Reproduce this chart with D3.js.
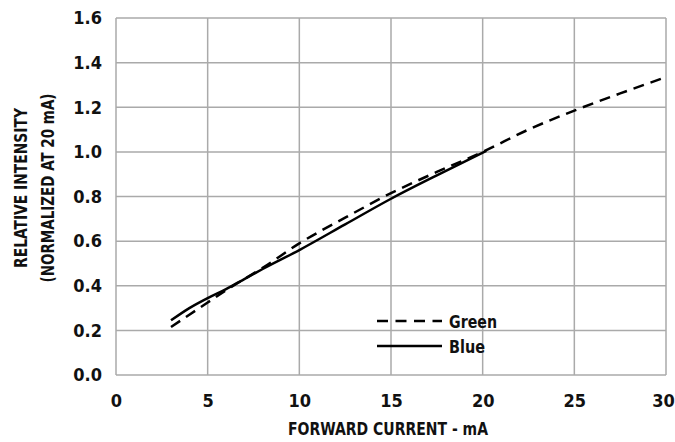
<!DOCTYPE html>
<html>
<head>
<meta charset="utf-8">
<script src="https://cdn.jsdelivr.net/npm/d3@7"></script>
<style>
  body { margin: 0; background: #fff; }
  text { font-family: "DejaVu Sans Condensed", "DejaVu Sans", sans-serif; font-stretch: condensed; font-weight: bold; fill: #111; }
</style>
</head>
<body>
<svg id="chart" width="675" height="442"></svg>
<script>
// data
const xTicks = [0, 5, 10, 15, 20, 25, 30];
const yTicks = [0, 0.2, 0.4, 0.6, 0.8, 1.0, 1.2, 1.4, 1.6];
const greenX = [3, 4, 5, 6, 7, 8, 10, 12.5, 15, 17.5, 20, 22.5, 25, 27.5, 30];
const greenY = [0.215, 0.27, 0.325, 0.38, 0.43, 0.48, 0.59, 0.705, 0.815, 0.91, 1.0, 1.1, 1.185, 1.262, 1.335];
const blueX = [3, 4, 5, 6, 7, 8, 10, 12.5, 15, 17.5, 20.2];
const blueY = [0.245, 0.30, 0.345, 0.385, 0.43, 0.475, 0.56, 0.675, 0.79, 0.895, 1.005];
const seriesNames = ["Green", "Blue"];

const svg = d3.select("#chart");
const margin = { top: 18, right: 9, bottom: 67, left: 116 };
const width = 675 - margin.left - margin.right;
const height = 442 - margin.top - margin.bottom;

const x = d3.scaleLinear().domain([0, 30]).range([0, width]);
const y = d3.scaleLinear().domain([0, 1.6]).range([height, 0]);
const g = svg.append("g").attr("transform", `translate(${margin.left},${margin.top})`);

// grid
g.selectAll(".vgrid").data(xTicks).enter().append("line")
  .attr("x1", d => x(d)).attr("x2", d => x(d))
  .attr("y1", 0).attr("y2", height)
  .attr("stroke", "#aaa").attr("stroke-width", 1.5);
g.selectAll(".hgrid").data(yTicks).enter().append("line")
  .attr("x1", 0).attr("x2", width)
  .attr("y1", d => y(d)).attr("y2", d => y(d))
  .attr("stroke", "#aaa").attr("stroke-width", 1.5);

// axes (labels only)
const xAxis = g.append("g").attr("transform", `translate(0,${height})`)
  .call(d3.axisBottom(x).tickValues(xTicks).tickFormat(d3.format("d")).tickSize(0).tickPadding(19));
const yAxis = g.append("g")
  .call(d3.axisLeft(y).tickValues(yTicks).tickFormat(d3.format(".1f")).tickSize(0).tickPadding(14));
[xAxis, yAxis].forEach(a => {
  a.select(".domain").remove();
  a.selectAll("text").style("font-size", "18px").attr("fill", "#111");
});
// keep the last label inside the page
xAxis.selectAll(".tick text").filter(d => d === 30).attr("dx", -3);

// lines
const line = d3.line().x(d => x(d[0])).y(d => y(d[1])).curve(d3.curveMonotoneX);
g.append("path").datum(blueX.map((v, i) => [v, blueY[i]]))
  .attr("d", line).attr("fill", "none").attr("stroke", "#000").attr("stroke-width", 2.5);
g.append("path").datum(greenX.map((v, i) => [v, greenY[i]]))
  .attr("d", line).attr("fill", "none").attr("stroke", "#000").attr("stroke-width", 2.5)
  .attr("stroke-dasharray", "11,7");

// legend
const legend = g.append("g").attr("transform", `translate(${377 - margin.left},${321 - margin.top})`);
seriesNames.forEach((name, i) => {
  const row = legend.append("g").attr("transform", `translate(0,${i * 25})`);
  row.append("line").attr("x1", 0).attr("x2", 65).attr("y1", 0).attr("y2", 0)
    .attr("stroke", "#000").attr("stroke-width", 2.5)
    .attr("stroke-dasharray", i === 0 ? "11,7.5" : null);
  row.append("text").attr("x", 72).attr("y", 7).style("font-size", "18px")
    .attr("textLength", i === 0 ? 48 : 36).attr("lengthAdjust", "spacingAndGlyphs").text(name);
});

// axis titles
svg.append("text").attr("x", 388).attr("y", 435)
  .attr("text-anchor", "middle").style("font-size", "18px")
  .attr("textLength", 200).attr("lengthAdjust", "spacingAndGlyphs").text("FORWARD CURRENT - mA");
svg.append("text").attr("transform", "translate(27,188) rotate(-90)")
  .attr("text-anchor", "middle").style("font-size", "18px")
  .attr("textLength", 160).attr("lengthAdjust", "spacingAndGlyphs").text("RELATIVE INTENSITY");
svg.append("text").attr("transform", "translate(54,188) rotate(-90)")
  .attr("text-anchor", "middle").style("font-size", "18px")
  .attr("textLength", 189).attr("lengthAdjust", "spacingAndGlyphs").text("(NORMALIZED AT 20 mA)");
</script>
</body>
</html>
